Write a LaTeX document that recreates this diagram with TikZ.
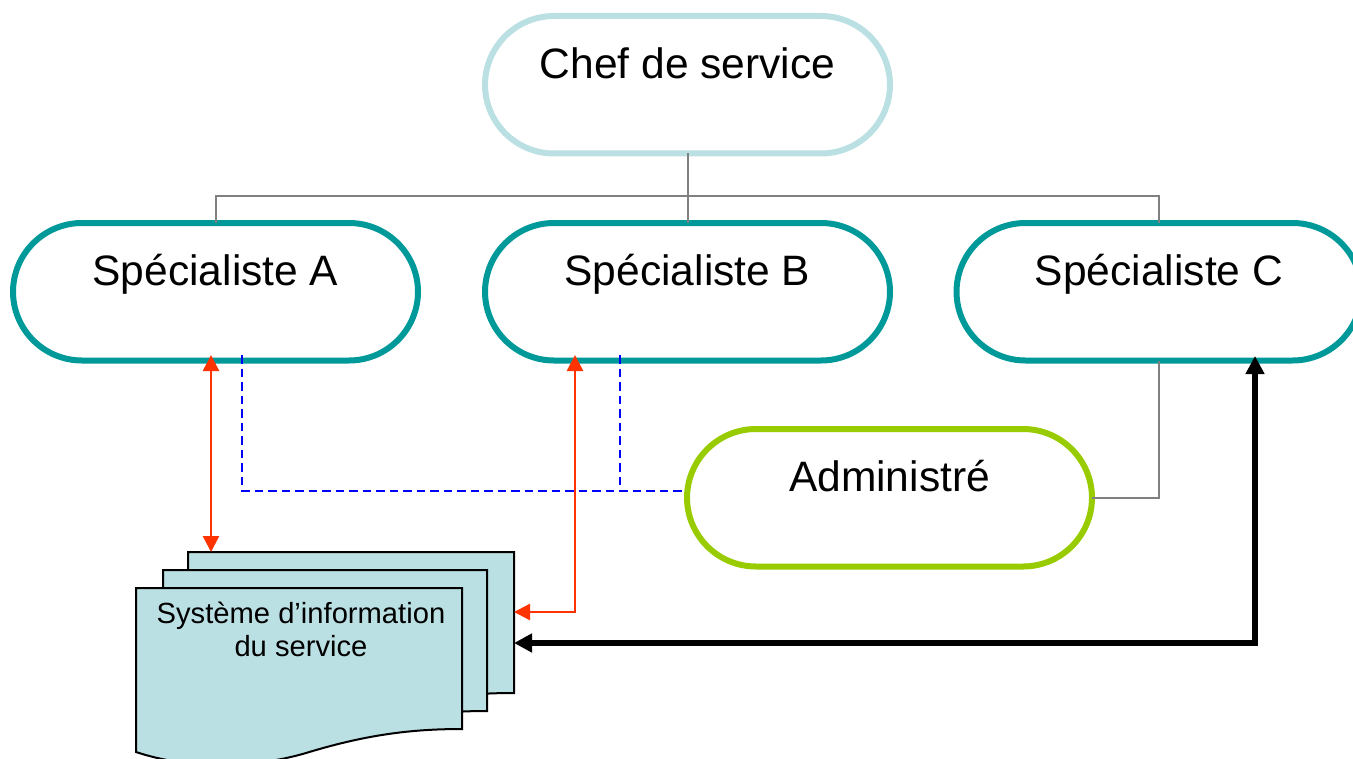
\documentclass[tikz,border=0pt]{standalone}
\usepackage{fontspec}
\setmainfont{Liberation Sans}
\usetikzlibrary{arrows.meta}
\definecolor{chefblue}{HTML}{BBE0E3}
\definecolor{teal}{HTML}{009999}
\definecolor{lime}{HTML}{99CC00}
\definecolor{redline}{HTML}{FF3300}
\tikzset{
  pill/.style={draw, fill=white, line width=0.12cm, rounded corners=1.38cm, inner sep=0pt, outer sep=0pt,
    minimum width=8.1cm, text height=1.25cm, text depth=1.5cm, font=\fontsize{24.2}{28}\selectfont},
  orgline/.style={draw=gray, line width=0.04cm},
  dashline/.style={draw=blue, line width=0.04cm, dash pattern=on 0.17cm off 0.1cm},
  redarrow/.style={draw=redline, line width=0.05cm, {Triangle[length=0.32cm,width=0.32cm]}-{Triangle[length=0.32cm,width=0.32cm]}, redline},
  blackarrow/.style={line width=0.12cm, {Triangle[length=0.36cm,width=0.36cm]}-{Triangle[length=0.36cm,width=0.36cm]}},
  sheet/.style={draw, fill=chefblue, line width=0.04cm},
}
\begin{document}
\begin{tikzpicture}
\clip (0,0) rectangle (27.06,-15.16);

\node[pill, draw=chefblue, anchor=north] (chef) at (13.75,-0.32) {Chef de service};
\node[pill, draw=teal, anchor=north] (speA) at (4.31,-4.46) {Spécialiste A};
\node[pill, draw=teal, anchor=north] (speB) at (13.75,-4.46) {Spécialiste B};
\node[pill, draw=teal, anchor=north] (speC) at (23.18,-4.46) {Spécialiste C};
\node[pill, draw=lime, anchor=north] (adm) at (17.79,-8.58) {Administré};

% feuilles du systeme
\foreach \xs/\ys/\ws in {3.76/-11.04/6.52, 3.26/-11.4/6.48, 2.72/-11.76/6.52} {
  \draw[sheet, shift={(\xs,\ys)}] (0,0) -- (\ws,0) -- (\ws,-2.82)
    .. controls (5.48,-2.82) and (4.58,-2.94) .. (3.4,-3.3)
    .. controls (2.38,-3.6) and (1.08,-3.64) .. (0,-3.28) -- cycle;
}
\node[align=center, inner sep=0pt, font=\fontsize{16.6}{18.7}\selectfont] (sys) at (6.02,-12.58)
  {Système d’information\\du service};

\coordinate (bus) at (13.75,-3.92);
\coordinate (bdA) at (4.84,-9.82);
\coordinate (bdB) at (12.4,-9.82);
\coordinate (admW) at (13.68,-9.82);
\coordinate (outA) at (4.84,-7.1);
\coordinate (outB) at (12.4,-7.1);
\coordinate (redAup) at (4.22,-7.1);
\coordinate (redAdown) at (4.22,-11.04);
\coordinate (redBup) at (11.5,-7.1);
\coordinate (redBdoc) at (10.28,-12.24);
\coordinate (blkup) at (25.1,-7.12);
\coordinate (blkdoc) at (10.28,-12.86);

\draw[orgline] (chef.south) -- (bus) -| (speA.north);
\draw[orgline] (bus) -| (speC.north);
\draw[orgline] (bus) -- (speB.north);
\draw[orgline] (adm.east) -| (speC.south);

\draw[dashline] (outA) -- (bdA) -- (admW);
\draw[dashline] (outB) -- (bdB);

\draw[redarrow] (redAup) -- (redAdown);
\draw[redarrow] (redBup) |- (redBdoc);
\draw[blackarrow] (blkup) |- (blkdoc);

\end{tikzpicture}
\end{document}
